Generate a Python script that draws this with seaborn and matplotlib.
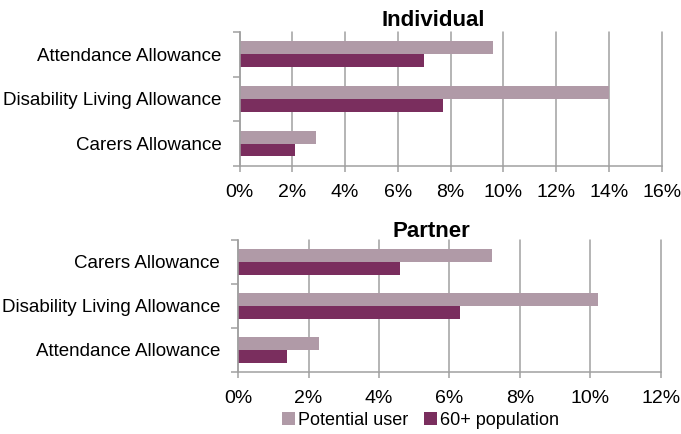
import matplotlib
matplotlib.use("Agg")
import matplotlib.pyplot as plt
import seaborn as sns
import pandas as pd
from matplotlib.ticker import FuncFormatter, FixedLocator
from matplotlib.patches import Patch

sns.set_theme(style="white")
plt.rcParams['font.family'] = ['Liberation Sans', 'DejaVu Sans']
plt.rcParams['text.color'] = 'black'
plt.rcParams['xtick.color'] = 'black'
plt.rcParams['ytick.color'] = 'black'

series = ["Potential user", "60+ population"]
colors = ["#B09AA7", "#7A2E5E"]

ind_categories = ["Attendance Allowance", "Disability Living Allowance", "Carers Allowance"]
ind_potential = [9.6, 14.0, 2.9]
ind_population = [7.0, 7.7, 2.1]

par_categories = ["Carers Allowance", "Disability Living Allowance", "Attendance Allowance"]
par_potential = [7.2, 10.2, 2.3]
par_population = [4.6, 6.3, 1.4]

def long_df(cats, pot, pop):
    rows = []
    for c, a, b in zip(cats, pot, pop):
        rows.append({"cat": c, "series": series[0], "val": a})
        rows.append({"cat": c, "series": series[1], "val": b})
    return pd.DataFrame(rows)

fig = plt.figure(figsize=(6.81, 4.34), dpi=100)
ax1 = fig.add_axes([0.3517, 0.618, 0.620, 0.308])
ax2 = fig.add_axes([0.3495, 0.143, 0.6211, 0.304])

grid_c = "#A0A0A0"
fs = 13.5
tfs = 14

def style(ax, df, cats, xmax, title, tpad):
    sns.barplot(data=df, y="cat", x="val", hue="series", order=cats,
                hue_order=series, palette=colors, orient="h", width=0.58,
                saturation=1, linewidth=0, ax=ax, legend=False)
    ax.set_xlim(0, xmax)
    ax.set_ylim(2.5, -0.5)
    ax.xaxis.set_major_locator(FixedLocator(list(range(0, xmax + 1, 2))))
    ax.xaxis.set_major_formatter(FuncFormatter(lambda v, p: f"{int(v)}%"))
    ax.set_xlabel("")
    ax.set_ylabel("")
    ax.grid(axis="x", color=grid_c, linewidth=1.1)
    for gl in ax.get_xgridlines():
        gl.set_clip_on(False)
    ax.set_axisbelow(True)
    for s in ["top", "right"]:
        ax.spines[s].set_visible(False)
    for s in ["left", "bottom"]:
        ax.spines[s].set_color(grid_c)
        ax.spines[s].set_linewidth(1.1)
    ax.set_yticks([0, 1, 2])
    ax.set_yticklabels(cats, fontsize=fs)
    ax.tick_params(axis="y", which="major", length=0, pad=13)
    ax.set_yticks([-0.5, 0.5, 1.5, 2.5], minor=True)
    ax.tick_params(axis="y", which="minor", length=5, color=grid_c, width=1.1, left=True)
    ax.tick_params(axis="x", which="major", length=4, color=grid_c, labelcolor="black",
                   width=1.1, labelsize=tfs, pad=9.3, bottom=True)
    ax.set_title(title, fontsize=16, fontweight="bold", pad=tpad, color="black", x=0.458)

style(ax1, long_df(ind_categories, ind_potential, ind_population), ind_categories, 16, "Individual", 4.3)
style(ax2, long_df(par_categories, par_potential, par_population), par_categories, 12, "Partner", 2.4)

handles = [Patch(facecolor=c, edgecolor="none") for c in colors]
fig.legend(handles, series, loc="center", bbox_to_anchor=(0.6175, 0.032), ncol=2,
           frameon=False, fontsize=13, handlelength=0.72, handleheight=0.72,
           handletextpad=0.15, columnspacing=0.9, borderaxespad=0)

fig.savefig("out.png", dpi=100)
